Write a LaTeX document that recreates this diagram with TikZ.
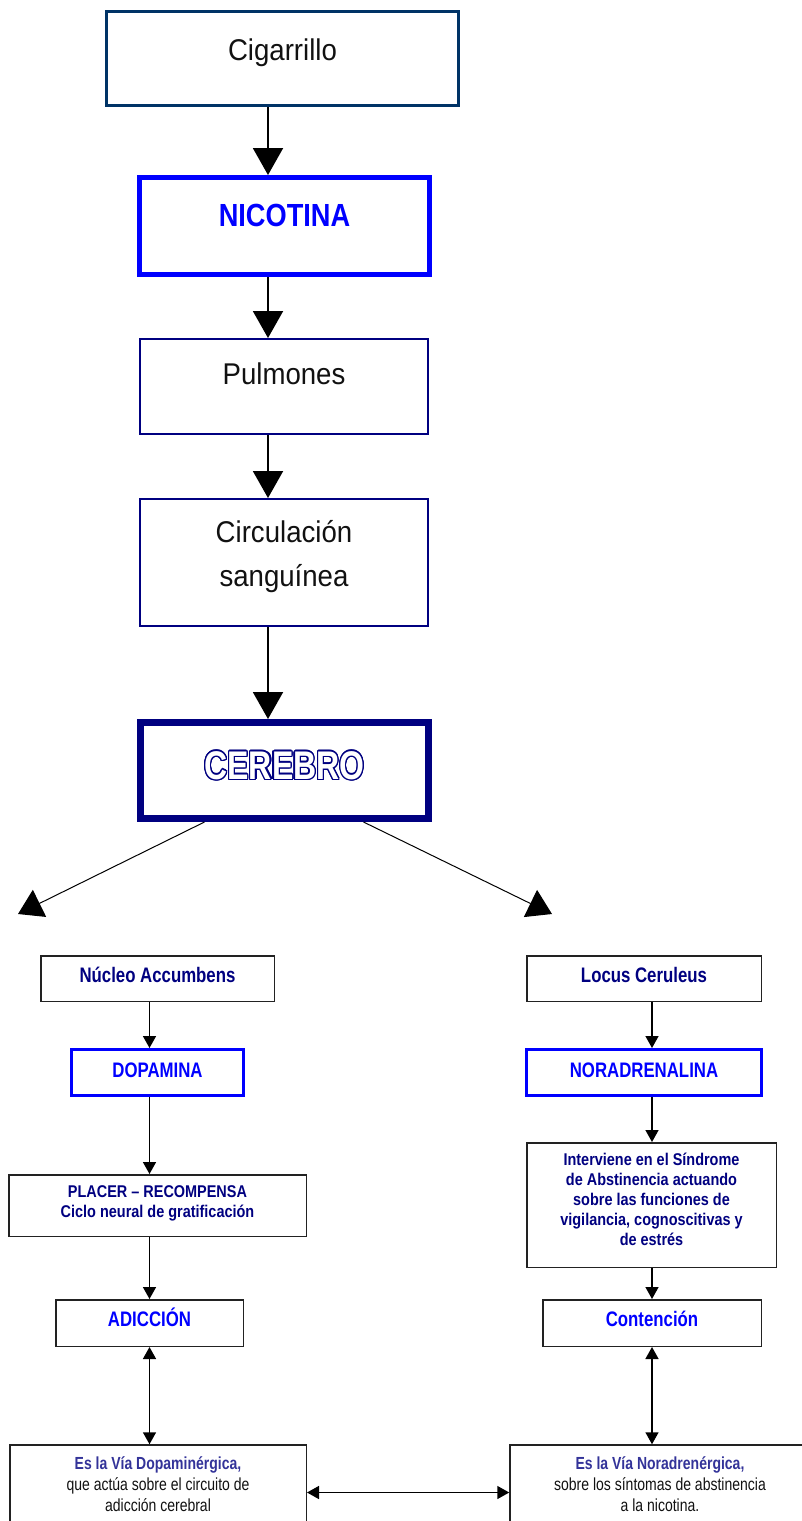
\documentclass[tikz,border=0pt]{standalone}
\usepackage{fontspec}
\setmainfont{Liberation Sans}
\newfontfamily\topfont[FakeStretch=0.92]{Liberation Sans}
\newfontfamily\headfont[FakeStretch=0.85]{Liberation Sans}
\newfontfamily\lowfont[FakeStretch=0.8]{Liberation Sans}
\usepackage{contour}
\contourlength{1.4pt}
\usetikzlibrary{arrows.meta,positioning}
\definecolor{ink}{HTML}{111111}
\definecolor{cigNavy}{HTML}{003366}
\definecolor{nicBlue}{HTML}{0000FF}
\definecolor{deepNavy}{HTML}{000080}
\definecolor{viaBlue}{HTML}{333399}
\definecolor{edgeGray}{HTML}{222222}
\tikzset{
  every node/.style={text=ink},
  flow arrow/.style={-{Triangle[length=27pt,width=30pt]},line width=2pt,draw=black},
  fork arrow/.style={-{Triangle[length=24pt,width=30pt]},line width=1pt,draw=black},
  path arrow/.style={-{Triangle[length=12pt,width=13pt]},line width=1.5pt,draw=black},
  link arrow/.style={{Triangle[length=12pt,width=13pt]}-{Triangle[length=12pt,width=13pt]},line width=1.5pt,draw=black},
  source box/.style={draw=cigNavy,line width=3pt,inner sep=0pt,align=center,
    font=\topfont\fontsize{30}{44}\selectfont},
  drug box/.style={draw=nicBlue,line width=5pt,inner sep=0pt,align=center,text=nicBlue,
    font=\headfont\bfseries\fontsize{32}{38}\selectfont},
  organ box/.style={draw=deepNavy,line width=2pt,inner sep=0pt,align=center,
    font=\topfont\fontsize{30}{44}\selectfont},
  brain box/.style={draw=deepNavy,line width=7pt,inner sep=0pt,align=center,
    font=\lowfont\bfseries\fontsize{40}{46}\selectfont},
  site box/.style={draw=edgeGray,line width=1.5pt,inner sep=0pt,align=center,text=deepNavy,
    font=\lowfont\bfseries\fontsize{21}{24}\selectfont},
  transmitter box/.style={draw=nicBlue,line width=3pt,inner sep=0pt,align=center,text=nicBlue,
    font=\lowfont\bfseries\fontsize{21}{24}\selectfont},
  effect box/.style={draw=edgeGray,line width=1.5pt,inner sep=0pt,align=center,text=deepNavy,
    font=\headfont\bfseries\fontsize{17}{20}\selectfont},
  outcome box/.style={draw=edgeGray,line width=1.5pt,inner sep=0pt,align=center,text=nicBlue,
    font=\lowfont\bfseries\fontsize{21}{24}\selectfont},
  pathway box/.style={draw=edgeGray,line width=1.5pt,inner sep=0pt,align=center,text=ink,
    font=\lowfont\fontsize{17.5}{21}\selectfont},
}

\begin{document}
\begin{tikzpicture}[x=1pt,y=-1pt]
  \useasboundingbox (0,0) rectangle (801,1521);

  % main chain
  \node[source box,minimum width=352pt,minimum height=94pt,
        text height=21.5pt,text depth=17pt] (cigarrillo) at (282.5,58.5) {Cigarrillo};
  \node[drug box,minimum width=290pt,minimum height=97pt,
        text height=23pt,text depth=22pt] (nicotina) at (284.5,226) {NICOTINA};
  \node[organ box,minimum width=288pt,minimum height=95pt,
        text height=21.5pt,text depth=25pt] (pulmones) at (284,386.5) {Pulmones};
  \node[organ box,minimum width=288pt,minimum height=127pt,
        text height=65.5pt,text depth=18pt] (circulacion) at (284,562.5)
    {Circulación\\sanguínea};
  \node[brain box,minimum width=288pt,minimum height=96pt,
        text height=28.6pt,text depth=11pt] (cerebro) at (284.5,770.5)
    {\contour{deepNavy}{\textcolor{white}{CEREBRO}}};
  \coordinate (spine) at (268,0);
  \coordinate (leftEnd) at (18,914);
  \coordinate (rightEnd) at (552,914);

  % dopamine branch
  \node[site box,minimum width=233.5pt,minimum height=45.5pt,
        text height=15pt,text depth=8pt] (accumbens) at (157.5,978.5) {Núcleo Accumbens};
  \node[transmitter box,minimum width=172pt,minimum height=46pt,
        text height=15pt,text depth=6pt] (dopamina) at (157.5,1072.5) {DOPAMINA};
  \node[effect box,minimum width=297.5pt,minimum height=61.5pt,
        text height=32.2pt,text depth=9pt] (placer) at (157.5,1205.5)
    {PLACER – RECOMPENSA\\Ciclo neural de gratificación};
  \node[outcome box,minimum width=187.5pt,minimum height=46.5pt,
        text height=15pt,text depth=8pt] (adiccion) at (149.5,1323) {ADICCIÓN};
  \node[pathway box,minimum width=296.5pt,minimum height=95pt,
        text height=54.5pt,text depth=17pt] (viaDopa) at (158,1492.5)
    {\textcolor{viaBlue}{\bfseries Es la Vía Dopaminérgica,}\\que actúa sobre el circuito de\\adicción cerebral};

  % noradrenaline branch
  \node[site box,minimum width=234.5pt,minimum height=45.5pt,
        text height=15pt,text depth=8pt] (locus) at (644,978.5) {Locus Ceruleus};
  \node[transmitter box,minimum width=235pt,minimum height=46pt,
        text height=15pt,text depth=6pt] (noradrenalina) at (644,1072.5) {NORADRENALINA};
  \node[effect box,minimum width=249.5pt,minimum height=124.5pt,
        text height=92.2pt,text depth=12pt] (interviene) at (651.5,1205)
    {Interviene en el Síndrome\\de Abstinencia actuando\\sobre las funciones de\\vigilancia, cognoscitivas y\\de estrés};
  \node[outcome box,minimum width=218.5pt,minimum height=46.5pt,
        text height=15pt,text depth=8pt] (contencion) at (652,1323) {Contención};
  \node[pathway box,minimum width=300pt,minimum height=95pt,
        text height=54.5pt,text depth=17pt] (viaNora) at (660,1492.5)
    {\textcolor{viaBlue}{\bfseries Es la Vía Noradrenérgica,}\\sobre los síntomas de abstinencia\\a la nicotina.};

  \draw[flow arrow] (cigarrillo.south -| spine) -- (nicotina.north -| spine);
  \draw[flow arrow] (nicotina.south -| spine) -- (pulmones.north -| spine);
  \draw[flow arrow] (pulmones.south -| spine) -- (circulacion.north -| spine);
  \draw[flow arrow] (circulacion.south -| spine) -- (cerebro.north -| spine);
  \draw[fork arrow] ([xshift=-80pt]cerebro.south) -- (leftEnd);
  \draw[fork arrow] ([xshift=79pt]cerebro.south) -- (rightEnd);

  \draw[path arrow] (accumbens.south -| adiccion) -- (dopamina.north -| adiccion);
  \draw[path arrow] (dopamina.south -| adiccion) -- (placer.north -| adiccion);
  \draw[path arrow] (placer.south -| adiccion) -- (adiccion.north);
  \draw[path arrow] (locus.south -| contencion) -- (noradrenalina.north -| contencion);
  \draw[path arrow] (noradrenalina.south -| contencion) -- (interviene.north -| contencion);
  \draw[path arrow] (interviene.south -| contencion) -- (contencion.north);

  \draw[link arrow] (adiccion.south) -- (viaDopa.north -| adiccion);
  \draw[link arrow] (contencion.south) -- (viaNora.north -| contencion);
  \draw[link arrow] (viaDopa.east) -- (viaNora.west);

\end{tikzpicture}
\end{document}
